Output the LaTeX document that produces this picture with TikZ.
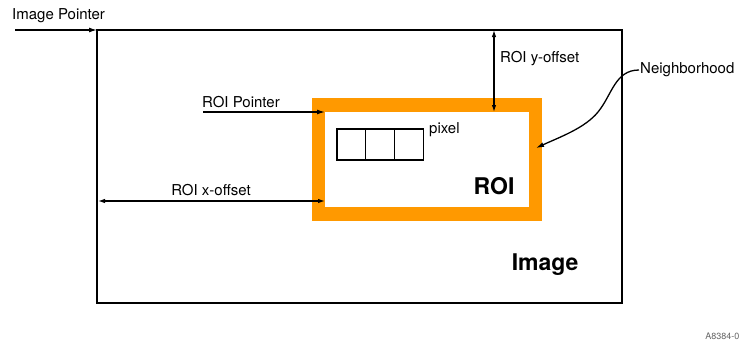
\documentclass[tikz,border=0pt]{standalone}
\usepackage{fontspec}
\setmainfont{TeX Gyre Heros}
\usetikzlibrary{calc,positioning,arrows.meta}
\definecolor{roiorange}{RGB}{255,153,0}
\begin{document}
\begin{tikzpicture}[x=1pt,y=-1pt,font=\fontsize{15}{17}\selectfont,
  ptr/.style={-{Latex[length=8pt,width=5pt]},line width=1.3pt},
  dim/.style={{Latex[length=7pt,width=4.5pt]}-{Latex[length=7pt,width=4.5pt]},line width=1.2pt},
  lbl/.style={inner sep=1pt},
  big/.style={anchor=east,font=\fontsize{23}{25}\selectfont\bfseries}]
\useasboundingbox (0,0) rectangle (743,343);
% image frame
\draw[line width=1.8pt] (97,30) coordinate (img) rectangle (622,303) coordinate (imgse);
\draw[line width=2.8pt] (97,30) -- (97,303) -- (622,303);
% roi with neighborhood border
\draw[roiorange,line width=13.5pt] (318.5,105) rectangle (535.5,214);
\coordinate (roi) at (325,112);
\coordinate (roie) at (536,148);
% pixels
\foreach \i in {0,1,2}
  \draw[line width=1.2pt] (337+28.7*\i,129) rectangle ++(28.7,31);
\node[lbl,anchor=west] (pix) at (428,130) {pixel};
\node[big] (roiname) at (518,186) {ROI};
\node[big] (imgname) at (582,265) {Image};
% pointers
\node[lbl,anchor=west] (imgptr) at (11,16) {Image Pointer};
\coordinate (imgstart) at (15,30);
\draw[ptr] (imgstart) -- (img);
\node[lbl,anchor=west] (roiptr) at (201,102) {ROI Pointer};
\coordinate (roistart) at (203,112);
\draw[ptr] (roistart) -- (roi);
% offsets
\coordinate (yt) at (494,30);
\coordinate (yb) at (494,112);
\draw[dim] (yt) -- (yb);
\node[lbl,anchor=west] (yoff) at (499,59) {ROI y-offset};
\coordinate (xl) at (98,201);
\coordinate (xr) at (325,201);
\draw[dim] (xl) -- (xr);
\node[lbl] (xoff) at (211,190) {ROI x-offset};
% neighborhood
\node[lbl,anchor=west] (nbh) at (639,70) {Neighborhood};
\draw[ptr] (nbh.west) .. controls (615,70) and (612,95) .. (598,112)
  .. controls (585,128) and (560,137) .. (roie);
\node[anchor=south east,font=\fontsize{9}{10}\selectfont,gray!80!black] (tag) at (743,343) {A8384-0};
\end{tikzpicture}
\end{document}
